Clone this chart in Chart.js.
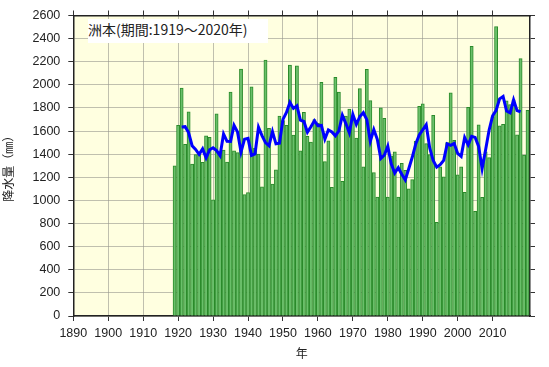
<!DOCTYPE html>
<html>
<head>
<meta charset="utf-8">
<script src="https://cdn.jsdelivr.net/npm/chart.js@4"></script>
<style>
    html, body { margin: 0; padding: 0; background: #fff; }
    #wrap { position: relative; width: 549px; height: 367px; }
    #titleBox {
        position: absolute; left: 88px; top: 19px; width: 180px; height: 24px;
        background: #fff; font: 14px "Noto Sans CJK JP", sans-serif; line-height: 20px;
        color: #222; white-space: nowrap;
    }
</style>
</head>
<body>
<div id="wrap">
    <canvas id="rainChart" width="549" height="367"></canvas>
    <div id="titleBox">洲本(期間:1919～2020年)</div>
</div>
<script>
// annual precipitation (mm), 1919 - 2020
const firstYear = 1919;
const rainfall = [
    1300, 1650, 1972, 1486, 1767, 1314, 1396, 1400, 1329, 1558, 1546, 1005, // 1919-1930
    1750, 1420, 1435, 1332, 1938, 1429, 1414, 2136, 1050, 1067,             // 1931-1940
    1982, 1450, 1400, 1118, 2215, 1624, 1141, 1265, 1730, 1690,             // 1941-1950
    1650, 2170, 1566, 2165, 1429, 1762, 1555, 1505, 1700, 1670,             // 1951-1960
    2022, 1336, 1515, 1113, 2064, 1938, 1165, 1730, 1790, 1700,             // 1961-1970
    1540, 1967, 1291, 2134, 1864, 1240, 1028, 1801, 1710, 1030,             // 1971-1980
    1386, 1420, 1028, 1320, 1260, 1100, 1180, 1512, 1815, 1835,             // 1981-1990
    1491, 1396, 1737, 811, 1290, 1205, 1500, 1931, 1520, 1222,              // 1991-2000
    1290, 1070, 1805, 2333, 905, 1655, 1027, 1420, 1370, 1722,              // 2001-2010
    2505, 1645, 1659, 1862, 1830, 1870, 1567, 2227, 1393, 1779              // 2011-2020
];

// 5-year running mean (blue line), 1921 - 2018
const meanFirstYear = 1921;
const runningMean = [
    1635, 1638, 1587, 1473, 1441, 1399, 1446, 1368, 1438, 1456,             // 1921-1930
    1431, 1388, 1575, 1511, 1510, 1650, 1593, 1419, 1530, 1537,             // 1931-1940
    1390, 1403, 1633, 1561, 1500, 1473, 1595, 1490, 1495, 1701,             // 1941-1950
    1761, 1848, 1796, 1818, 1695, 1683, 1590, 1638, 1690, 1647,             // 1951-1960
    1649, 1531, 1610, 1593, 1559, 1602, 1737, 1665, 1585, 1745,             // 1961-1970
    1658, 1726, 1759, 1699, 1511, 1613, 1529, 1362, 1391, 1469,             // 1971-1980
    1315, 1237, 1283, 1226, 1178, 1274, 1373, 1488, 1567, 1610,             // 1981-1990
    1655, 1454, 1345, 1288, 1309, 1347, 1489, 1476, 1493, 1407,             // 1991-2000
    1381, 1544, 1481, 1554, 1545, 1468, 1275, 1439, 1609, 1732,             // 2001-2010
    1780, 1879, 1900, 1773, 1758, 1871, 1777, 1767                          // 2011-2018
];

const yearMin = 1890;
const yearMax = 2020.7;
const yearStep = 10;
const rainMax = 2600;
const rainStep = 200;

const barPoints = rainfall.map((v, i) => ({ x: firstYear + i, y: v }));
const meanPoints = runningMean.map((v, i) => ({ x: meanFirstYear + i, y: v }));

const tickFont = { family: '"Liberation Sans", Arial, sans-serif', size: 12.5 };
const titleFont = { family: '"Noto Sans CJK JP", sans-serif', size: 12 };
const gridOpts = {
    color: 'rgba(150,150,140,0.6)',
    borderDash: [1, 2],
    tickColor: '#333',
    tickLength: 5,
    tickBorderDash: [],
    offset: false
};
const borderOpts = { display: true, color: '#222', width: 1.5 };
const decadesOnly = s => { s.ticks = s.ticks.filter(t => t.value % yearStep === 0); };
const plainNumber = v => String(v);

// light yellow plot background
const plotBg = {
    id: 'plotBg',
    beforeDraw(chart) {
        const { ctx, chartArea: a } = chart;
        ctx.save();
        ctx.fillStyle = '#ffffe0';
        ctx.fillRect(a.left, a.top, a.right - a.left, a.bottom - a.top);
        ctx.restore();
    }
};

new Chart(document.getElementById('rainChart').getContext('2d'), {
    type: 'bar',
    data: {
        datasets: [
            {
                type: 'line',
                data: meanPoints,
                borderColor: '#0000ff',
                borderWidth: 3,
                pointRadius: 0,
                tension: 0,
                order: 0
            },
            {
                type: 'bar',
                data: barPoints,
                backgroundColor: '#6abf6a',
                borderColor: '#2a8a2a',
                borderWidth: 1,
                barThickness: 3.2,
                order: 1
            }
        ]
    },
    options: {
        responsive: false,
        animation: false,
        layout: { padding: 0 },
        plugins: { legend: { display: false }, tooltip: { enabled: false } },
        scales: {
            x: {
                type: 'linear', position: 'bottom', min: yearMin, max: yearMax, offset: false,
                ticks: { stepSize: yearStep, autoSkip: false, maxRotation: 0, font: tickFont, color: '#222', padding: 5, callback: plainNumber },
                afterBuildTicks: decadesOnly,
                grid: gridOpts, border: borderOpts,
                title: { display: true, text: '年', font: titleFont, color: '#222', padding: { bottom: 6 } },
                afterFit: s => { s.height = 51; }
            },
            xTop: {
                type: 'linear', position: 'top', min: yearMin, max: yearMax, offset: false,
                ticks: { stepSize: yearStep, display: false },
                afterBuildTicks: decadesOnly,
                grid: { ...gridOpts, drawOnChartArea: false }, border: borderOpts,
                afterFit: s => { s.height = 13.5; }
            },
            y: {
                position: 'left', min: 0, max: rainMax,
                ticks: { stepSize: rainStep, font: tickFont, color: '#222', padding: 8, callback: plainNumber },
                grid: gridOpts, border: borderOpts,
                title: { display: true, text: '降水量（㎜）', font: titleFont, color: '#222', padding: { top: 1 } },
                afterFit: s => { s.width = 73.3; }
            },
            yRight: {
                position: 'right', min: 0, max: rainMax,
                ticks: { stepSize: rainStep, display: false },
                grid: { ...gridOpts, drawOnChartArea: false }, border: borderOpts,
                afterFit: s => { s.width = 19; }
            }
        }
    },
    plugins: [plotBg]
});
</script>
</body>
</html>
